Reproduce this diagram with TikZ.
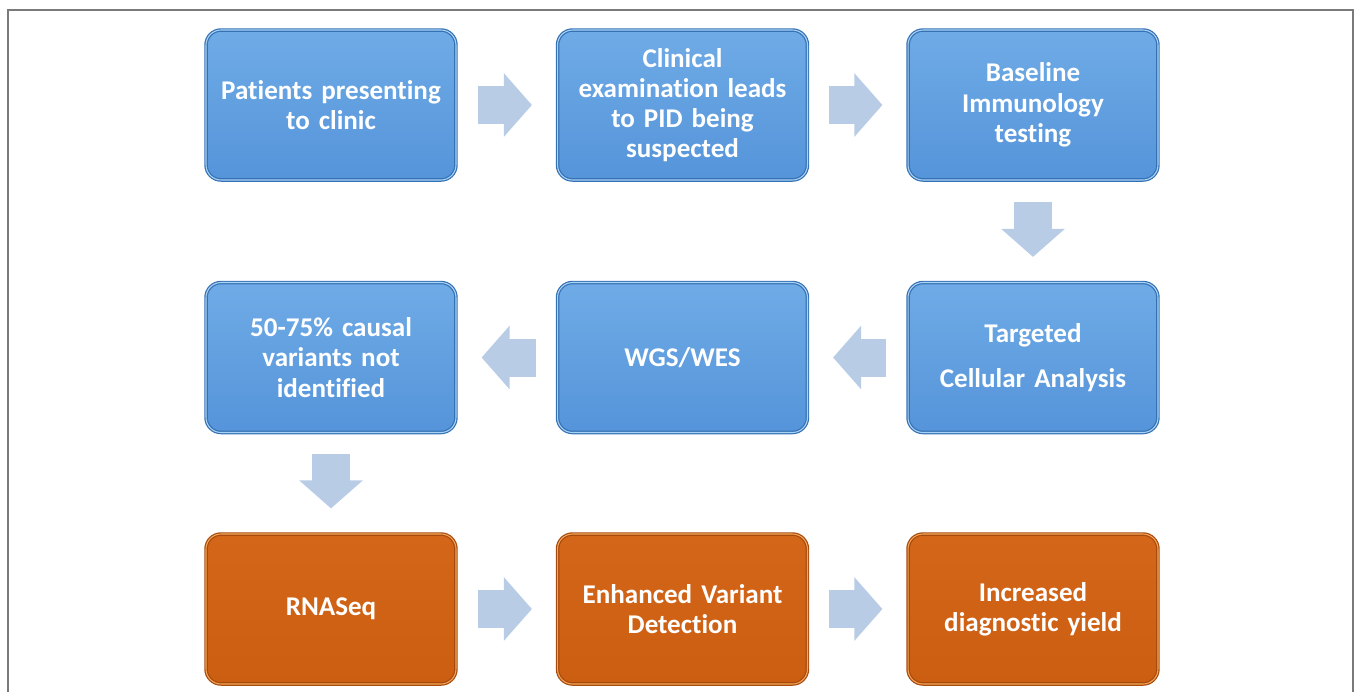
\documentclass[tikz,border=0pt]{standalone}
\usepackage{fontspec}
\setmainfont{Carlito}[Ligatures=NoCommon]
\usetikzlibrary{arrows.meta}

\definecolor{boxblue}{HTML}{5594DA}
\definecolor{boxbluetop}{HTML}{6FABE6}
\definecolor{boxblueedge}{HTML}{3572B5}
\definecolor{boxbluelight}{HTML}{A9D2F5}
\definecolor{boxorange}{HTML}{CC5E12}
\definecolor{boxorangetop}{HTML}{D4661A}
\definecolor{boxorangeedge}{HTML}{A84A0C}
\definecolor{boxorangelight}{HTML}{F2A55A}
\definecolor{arrowblue}{HTML}{B8CCE6}
\definecolor{framegray}{HTML}{7A7A7A}

\begin{document}
\begin{tikzpicture}[x=0.02cm,y=-0.02cm,
  stage/.style={rounded corners=0.3cm,minimum width=5.0cm,minimum height=3.0cm,
    inner sep=0pt,text width=4.8cm,align=center,text=white,
    font=\bfseries\fontsize{15.4}{17.2}\selectfont,
    draw=boxblueedge,double=boxbluelight,double distance=0.6pt,line width=0.7pt,
    top color=boxbluetop,bottom color=boxblue},
  rnastage/.style={stage,draw=boxorangeedge,double=boxorangelight,
    top color=boxorangetop,bottom color=boxorange},
  flow/.style={draw=arrowblue,line width=0.76cm,shorten <=0.42cm,shorten >=0.5cm,
    -{Triangle[length=0.56cm,width=1.24cm,fill=arrowblue]}}]
\useasboundingbox (0,0) rectangle (1357,691);
\draw[framegray,line width=0.8pt] (8,700) -- (8,10) -- (1353,10) -- (1353,700);

\node[stage] (patients) at (331,105) {Patients presenting\\to clinic};
\node[stage] (exam) at (682.5,105) {Clinical\\examination leads\\to PID being\\suspected};
\node[stage] (baseline) at (1033,105) {Baseline\\Immunology\\testing};
\node[stage] (targeted) at (1033,357.5) {Targeted\\[0.3cm]Cellular Analysis};
\node[stage] (wgs) at (682.5,357.5) {WGS/WES};
\node[stage] (causal) at (331,357.5) {50-75\% causal\\variants not\\identified};
\node[rnastage] (rnaseq) at (331,609) {RNASeq};
\node[rnastage] (variant) at (682.5,609) {Enhanced Variant\\Detection};
\node[rnastage] (yield) at (1033,609) {Increased\\diagnostic yield};

\draw[flow] (patients) -- (exam);
\draw[flow] (exam) -- (baseline);
\draw[flow] (baseline) -- (targeted);
\draw[flow] (targeted) -- (wgs);
\draw[flow] (wgs) -- (causal);
\draw[flow] (causal) -- (rnaseq);
\draw[flow] (rnaseq) -- (variant);
\draw[flow] (variant) -- (yield);
\end{tikzpicture}
\end{document}
